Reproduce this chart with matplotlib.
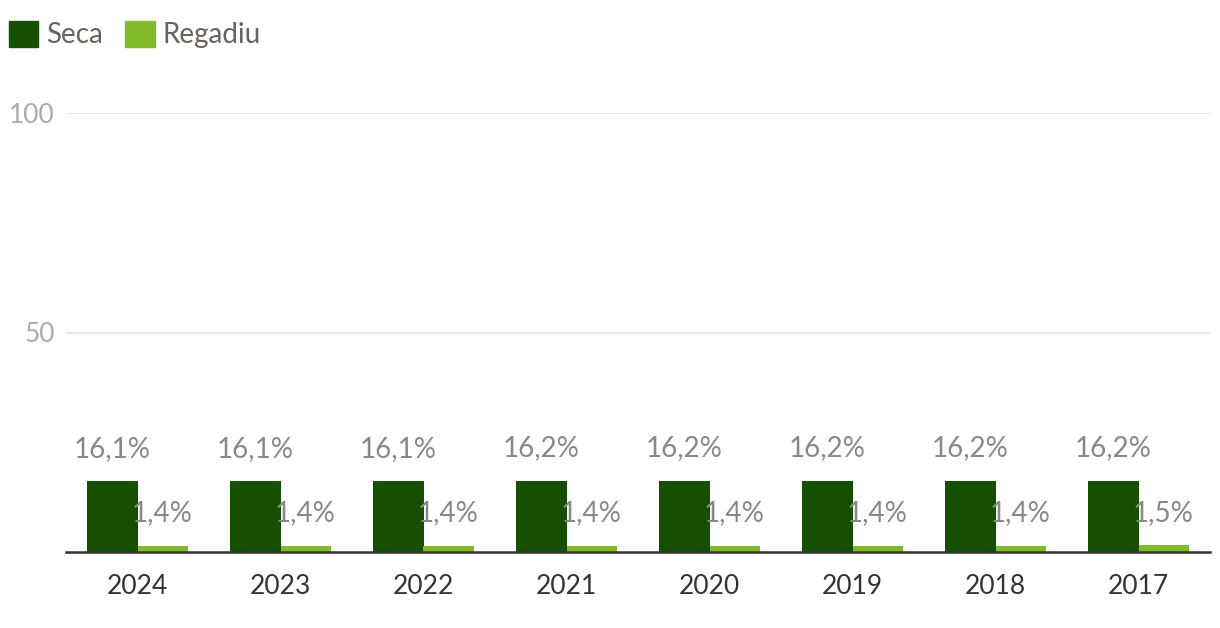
import matplotlib
matplotlib.use("Agg")
import matplotlib.pyplot as plt
import numpy as np
from matplotlib.patches import Patch

years = ["2024", "2023", "2022", "2021", "2020", "2019", "2018", "2017"]
seca = [16.1, 16.1, 16.1, 16.2, 16.2, 16.2, 16.2, 16.2]
regadiu = [1.4, 1.4, 1.4, 1.4, 1.4, 1.4, 1.4, 1.5]
series_names = ["Seca", "Regadiu"]
yticks = [50, 100]

plt.rcParams['font.family'] = ['Lato', 'DejaVu Sans']

c_seca = "#145000"
c_reg = "#82bb2a"

fig = plt.figure(figsize=(12.2, 6.28), dpi=100)
ax = fig.add_axes([66/1220, 76/628, (1210-66)/1220, (552-113)/628])

x = np.arange(len(years))
w = 0.35
ax.bar(x - w/2, seca, width=w, color=c_seca, zorder=3)
ax.bar(x + w/2, regadiu, width=w, color=c_reg, zorder=3)

def fmt(v):
    return f"{v:.1f}".replace(".", ",") + "%"

for xi, v in zip(x, seca):
    ax.annotate(fmt(v), (xi - w/2, v), xytext=(0, 14), textcoords="offset points",
                ha="center", va="bottom", fontsize=20, color="#888888", zorder=4)
for xi, v in zip(x, regadiu):
    ax.annotate(fmt(v), (xi + w/2, v), xytext=(0, 14), textcoords="offset points",
                ha="center", va="bottom", fontsize=20, color="#888888", zorder=4)

ax.set_xlim(-0.5, len(years) - 0.5)
ax.set_ylim(0, 100)
ax.set_yticks(yticks)
ax.set_yticklabels([str(t) for t in yticks])
ax.set_xticks(x)
ax.set_xticklabels(years)
ax.tick_params(axis="y", length=0, pad=8, labelsize=19, labelcolor="#aaaaaa")
ax.tick_params(axis="x", length=0, pad=16, labelsize=19, labelcolor="#333333")
ax.grid(axis="y", color="#e3e3e3", linewidth=1.2, zorder=0)
for s in ["top", "right", "left"]:
    ax.spines[s].set_visible(False)
ax.spines["bottom"].set_color("#333333")
ax.spines["bottom"].set_linewidth(1.8)
ax.spines["bottom"].set_zorder(5)

handles = [Patch(color=c_seca), Patch(color=c_reg)]
fig.legend(handles, series_names, loc="upper left", bbox_to_anchor=(9/1220, 1 - 21/628),
           ncol=2, frameon=False, fontsize=20, handlelength=1.05, handleheight=1.05,
           handletextpad=0.3, columnspacing=0.8, labelcolor="#6b6259",
           borderpad=0, borderaxespad=0)

fig.savefig("out.png", dpi=100)
